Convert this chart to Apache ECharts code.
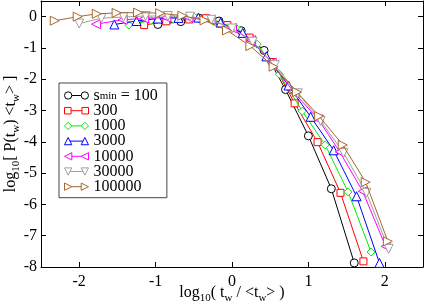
<!DOCTYPE html>
<html>
<head>
<meta charset="utf-8">
<script src="https://cdn.jsdelivr.net/npm/echarts@6/dist/echarts.min.js"></script>
<style>html,body{margin:0;padding:0;background:#fff}#c{width:425px;height:306px}</style>
</head>
<body>
<div id="c"></div>
<script>
var xTicks = [-2, -1, 0, 1, 2];
var yTicks = [-8, -7, -6, -5, -4, -3, -2, -1, 0];
var seriesNames = ['100', '300', '1000', '3000', '10000', '30000', '100000'];

var s100 = [[-0.97,-0.25],[-0.67,-0.16],[-0.43,-0.05],[-0.17,-0.14],[0.12,-0.45],[0.42,-1.08],[0.70,-2.33],[1.00,-3.81],[1.30,-5.50],[1.60,-7.87]];
var s300 = [[-1.15,-0.27],[-0.86,-0.15],[-0.56,-0.09],[-0.34,-0.05],[-0.06,-0.27],[0.23,-0.67],[0.53,-1.45],[0.82,-2.77],[1.12,-4.01],[1.42,-5.63],[1.72,-7.82]];
var s1000 = [[-1.35,-0.27],[-1.06,-0.12],[-0.77,-0.08],[-0.49,-0.02],[-0.24,-0.15],[0.05,-0.35],[0.33,-0.88],[0.62,-1.84],[0.92,-3.02],[1.22,-4.10],[1.52,-5.60],[1.82,-7.52]];
var s3000 = [[-1.54,-0.25],[-1.25,-0.14],[-0.97,-0.06],[-0.70,-0.04],[-0.44,-0.03],[-0.15,-0.19],[0.14,-0.52],[0.45,-1.27],[0.74,-2.20],[1.03,-3.20],[1.33,-4.27],[1.63,-5.74],[1.93,-7.87]];
var s10000 = [[-1.78,-0.24],[-1.43,-0.10],[-1.15,-0.06],[-0.86,-0.03],[-0.57,-0.03],[-0.28,-0.10],[0.0,-0.37],[0.25,-0.75],[0.52,-1.47],[0.82,-2.45],[1.13,-3.28],[1.41,-4.32],[1.71,-5.58],[2.01,-7.34]];
var s30000 = [[-2.00,-0.22],[-1.71,-0.05],[-1.42,-0.01],[-1.13,0.02],[-0.84,0.02],[-0.55,0.0],[-0.27,-0.10],[0.0,-0.38],[0.27,-0.80],[0.56,-1.55],[0.86,-2.45],[1.16,-3.33],[1.46,-4.35],[1.76,-5.63],[2.05,-7.42]];
var s100000 = [[-2.32,-0.13],[-2.02,0.0],[-1.77,0.09],[-1.51,0.12],[-1.23,0.13],[-0.94,0.11],[-0.65,0.03],[-0.36,-0.12],[-0.065,-0.44],[0.24,-0.94],[0.545,-1.60],[0.85,-2.41],[1.14,-3.18],[1.45,-4.10],[1.75,-5.29],[2.04,-7.18]];

var allData = [s100, s300, s1000, s3000, s10000, s30000, s100000];
var colors = ['#000000', '#ff0000', '#00ee00', '#0000ff', '#ff00ff', '#a0a0a0', '#a5682a'];
var symbols = ['circle', 'rect', 'diamond', 'triangle', 'triangle', 'triangle', 'triangle'];
var rotations = [0, 0, 0, 0, 90, 180, -90];
var sizes = [8, 7, 8, 9, 9, 9, 9];
var legendIcons = [
  'path://M0.5,4A3.5,3.5,0,1,1,7.5,4A3.5,3.5,0,1,1,0.5,4ZM7.5,4L16.5,4M16.5,4A3.5,3.5,0,1,1,23.5,4A3.5,3.5,0,1,1,16.5,4Z',
  'path://M1,1L7,1L7,7L1,7ZM7,4L17,4M17,1L23,1L23,7L17,7Z',
  'path://M0.5,4L4,0.5L7.5,4L4,7.5ZM7.5,4L16.5,4M16.5,4L20,0.5L23.5,4L20,7.5Z',
  'path://M0.5,7.5L4,0.5L7.5,7.5ZM5.75,4L18.25,4M16.5,7.5L20,0.5L23.5,7.5Z',
  'path://M0.5,4L7.5,0.5L7.5,7.5ZM7.5,4L16.5,4M16.5,4L23.5,0.5L23.5,7.5Z',
  'path://M0.5,0.5L7.5,0.5L4,7.5ZM5.75,4L18.25,4M16.5,0.5L23.5,0.5L20,7.5Z',
  'path://M0.5,0.5L7.5,4L0.5,7.5ZM7.5,4L16.5,4M16.5,0.5L23.5,4L16.5,7.5Z'
];

var FF = 'Liberation Serif';
var rich = {
  n: {fontSize: 16, fontFamily: FF, color: '#000', lineHeight: 22},
  s: {fontSize: 11, fontFamily: FF, color: '#000', lineHeight: 11, verticalAlign: 'bottom'}
};
var legendRich = {
  n: {fontSize: 16, fontFamily: FF, color: '#000', lineHeight: 13},
  s: {fontSize: 11, fontFamily: FF, color: '#000', lineHeight: 11, verticalAlign: 'bottom', padding: [6, 0, 0, 0]}
};

var axisCommon = {
  type: 'value',
  axisLine: {show: true, onZero: false, lineStyle: {color: '#000', width: 1}},
  splitLine: {show: false}
};

var option = {
  animation: false,
  backgroundColor: '#fff',
  grid: {left: 41, right: 2, top: 1, bottom: 39, containLabel: false, outerBoundsMode: 'none'},
  legend: {
    orient: 'vertical', left: 59, top: 83,
    backgroundColor: '#fff', borderColor: '#444', borderWidth: 1, borderRadius: 0,
    padding: [2, 9, 3, 5], itemGap: -0.8, itemWidth: 24, itemHeight: 8,
    selectedMode: false,
    textStyle: {fontSize: 16, lineHeight: 13, fontFamily: FF, color: '#000', rich: legendRich},
    formatter: function (name) {
      if (name === '100') return '{n|s}{s|min}{n| = 100}';
      return '{n|' + name + '}';
    },
    data: seriesNames.map(function (nm, i) {
      return {name: nm, icon: legendIcons[i], itemStyle: {color: '#fff', borderColor: colors[i], borderWidth: 1}};
    })
  },
  xAxis: [
    Object.assign({}, axisCommon, {
      min: -2.5, max: 2.5, position: 'bottom',
      axisTick: {show: true, inside: true, length: 5, customValues: xTicks, lineStyle: {color: '#000'}},
      axisLabel: {show: true, customValues: xTicks, fontSize: 16, fontFamily: FF, color: '#000', margin: 7},
      name: '{n|log}{s|10}{n|( t}{s|w}{n| / <t}{s|w}{n|> )}',
      nameLocation: 'middle', nameGap: 15, nameMoveOverlap: false,
      nameTextStyle: {rich: rich}
    }),
    Object.assign({}, axisCommon, {
      min: -2.5, max: 2.5, position: 'top',
      axisTick: {show: true, inside: true, length: 5, customValues: xTicks, lineStyle: {color: '#000'}},
      axisLabel: {show: false}
    })
  ],
  yAxis: [
    Object.assign({}, axisCommon, {
      min: -8, max: 0.5, position: 'left',
      axisTick: {show: true, inside: true, length: 5, customValues: yTicks, lineStyle: {color: '#000'}},
      axisLabel: {show: true, customValues: yTicks, fontSize: 16, fontFamily: FF, color: '#000', margin: 4},
      name: '{n|log}{s|10}{n|[ P(t}{s|w}{n|) <t}{s|w}{n|> ]}',
      nameLocation: 'middle', nameGap: 19, nameRotate: 90, nameMoveOverlap: false,
      nameTextStyle: {rich: rich}
    }),
    Object.assign({}, axisCommon, {
      min: -8, max: 0.5, position: 'right',
      axisTick: {show: true, inside: true, length: 5, customValues: yTicks, lineStyle: {color: '#000'}},
      axisLabel: {show: false}
    })
  ],
  series: allData.map(function (d, i) {
    return {
      name: seriesNames[i], type: 'line', data: d,
      xAxisIndex: 0, yAxisIndex: 0,
      symbol: symbols[i], symbolSize: sizes[i], symbolRotate: rotations[i],
      showAllSymbol: true,
      lineStyle: {color: colors[i], width: 1},
      itemStyle: {color: '#fff', borderColor: colors[i], borderWidth: 1},
      z: 2 + i
    };
  })
};

var chart = echarts.init(document.getElementById('c'), null, {renderer: 'canvas'});
chart.setOption(option);
</script>
</body>
</html>
